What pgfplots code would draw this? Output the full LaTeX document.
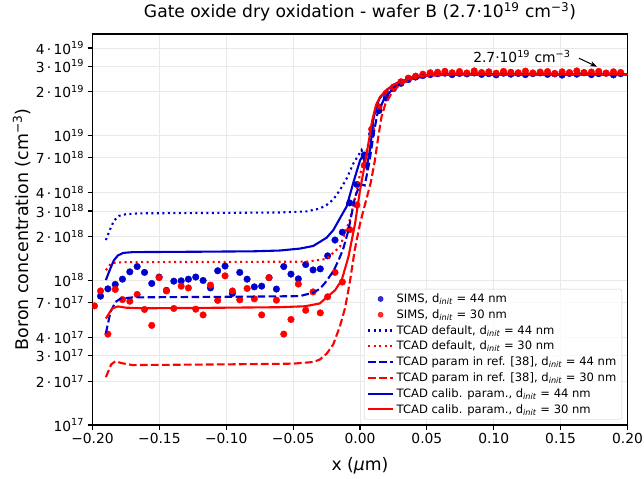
\documentclass[border=0pt]{standalone}
\usepackage{fontspec}
\setmainfont{DejaVu Sans}
\usepackage{pgfplots}
\pgfplotsset{compat=1.18}
\usetikzlibrary{arrows.meta}
\definecolor{cblue}{RGB}{0,0,205}
\definecolor{cred}{RGB}{255,0,0}
\definecolor{gridc}{RGB}{233,233,233}
\definecolor{legframe}{RGB}{204,204,204}
\newcommand{\tp}[1]{10\textsuperscript{#1}}
\newcommand{\di}{d\textsubscript{\textit{init}}}
\begin{document}
\begin{tikzpicture}
\useasboundingbox (-92.5bp,-54bp) rectangle (551.5bp,425bp);
\begin{axis}[
  at={(0,0)}, anchor=south west,
  scale only axis, width=535bp, height=391bp,
  xmin=-0.2, xmax=0.2, ymin=1e17, ymax=5e19, ymode=log,
  xtick={-0.2,-0.15,-0.1,-0.05,0,0.05,0.1,0.15,0.2},
  xticklabels={−0.20,−0.15,−0.10,−0.05,0.00,0.05,0.10,0.15,0.20},
  ytick={1e17,2e17,3e17,4e17,7e17,1e18,2e18,3e18,4e18,7e18,1e19,2e19,3e19,4e19},
  yticklabels={\tp{17},2\,·\,\tp{17},3\,·\,\tp{17},4\,·\,\tp{17},7\,·\,\tp{17},\tp{18},2\,·\,\tp{18},3\,·\,\tp{18},4\,·\,\tp{18},7\,·\,\tp{18},\tp{19},2\,·\,\tp{19},3\,·\,\tp{19},4\,·\,\tp{19}},
  yminorticks=false, xminorticks=false,
  tick align=outside, major tick length=4.9bp,
  xtick pos=lower, ytick pos=left,
  tick style={black, line width=1.1bp},
  axis line style={line width=1.1bp},
  grid=major, major grid style={gridc, line width=0.8bp},
  ticklabel style={font=\fontsize{13.9}{16}\selectfont},
  xlabel={x (\textit{μ}m)},
  ylabel={Boron concentration (cm\textsuperscript{−3})},
  xlabel style={at={(axis description cs:0.5,-0.1049)}, anchor=center, font=\fontsize{17.3}{20}\selectfont},
  ylabel style={at={(axis description cs:-0.1323,0.5)}, anchor=center, font=\fontsize{17.5}{20}\selectfont},
  title={Gate oxide dry oxidation - wafer B (2.7·10\textsuperscript{19} cm\textsuperscript{−3})},
  title style={at={(axis description cs:0.5,1.0409)}, anchor=center, font=\fontsize{17.2}{20}\selectfont},
  clip marker paths=true,
  legend image code/.code={\draw[mark repeat=2,mark phase=2,#1] plot coordinates {(0bp,0bp)(12.5bp,0bp)(25bp,0bp)};},
  legend cell align=left,
  legend style={at={(axis description cs:1,0)}, anchor=south east, xshift=-5.5bp, yshift=5.5bp,
    font=\fontsize{11.6}{13.5}\selectfont, draw=legframe, rounded corners=2bp, fill=white, fill opacity=0.8, text opacity=1,
    nodes={inner ysep=2.75bp, inner xsep=2.5bp}, row sep=0bp},
  every axis plot/.append style={line width=2.1bp},
]
\addlegendimage{only marks, mark=*, mark size=2.6bp, cblue, mark options={line width=0.4bp}}
\addlegendentry{SIMS, \di{} = 44 nm}
\addlegendimage{only marks, mark=*, mark size=2.6bp, cred, mark options={line width=0.4bp}}
\addlegendentry{SIMS, \di{} = 30 nm}

% SIMS blue (44 nm)
\addplot[forget plot, only marks, mark=*, mark size=3.3bp, cblue, mark options={line width=0.4bp}] coordinates {
(-0.1940,7.75e17)(-0.1885,8.70e17)(-0.1830,9.34e17)(-0.1776,1.015e18)(-0.1721,1.14e18)
(-0.1666,1.24e18)(-0.1611,1.13e18)(-0.1557,9.48e17)(-0.1502,1.05e18)(-0.1447,8.5e17)
(-0.1392,9.83e17)(-0.1337,9.88e17)(-0.1283,1.015e18)(-0.1228,1.05e18)(-0.1173,9.94e17)
(-0.1118,8.83e17)(-0.1064,1.16e18)(-0.1009,1.25e18)(-0.0954,8.09e17)(-0.0899,1.13e18)
(-0.0844,1.015e18)(-0.0790,8.98e17)(-0.0735,9.08e17)(-0.0680,1.04e18)(-0.0625,8.67e17)
(-0.0570,1.24e18)(-0.0516,1.10e18)(-0.0461,1.02e18)(-0.0406,1.28e18)(-0.0351,1.175e18)
(-0.0297,1.195e18)(-0.0242,1.47e18)(-0.0187,1.89e18)(-0.0132,2.14e18)(-0.0077,3.41e18)
(-0.0023,4.57e18)(0.0032,7.3e18)(0.0087,1.02e19)(0.0142,1.48e19)(0.0196,1.81e19)
(0.0251,2.10e19)(0.0306,2.28e19)(0.0361,2.42e19)(0.0416,2.52e19)(0.0470,2.58e19)
(0.0525,2.62e19)(0.0580,2.66e19)(0.0635,2.68e19)(0.0689,2.62e19)(0.0744,2.67e19)
(0.0799,2.65e19)(0.0854,2.69e19)(0.0909,2.63e19)(0.0963,2.66e19)(0.1018,2.61e19)
(0.1073,2.68e19)(0.1128,2.64e19)(0.1183,2.67e19)(0.1237,2.62e19)(0.1292,2.66e19)
(0.1347,2.69e19)(0.1402,2.63e19)(0.1456,2.65e19)(0.1511,2.60e19)(0.1566,2.67e19)
(0.1621,2.64e19)(0.1675,2.70e19)(0.1730,2.62e19)(0.1785,2.66e19)(0.1840,2.68e19)
(0.1895,2.61e19)(0.1949,2.66e19)(0.2004,2.65e19)
};
% SIMS red (30 nm)
\addplot[forget plot, only marks, mark=*, mark size=3.3bp, cred, mark options={line width=0.4bp}] coordinates {
(-0.1985,6.64e17)
(-0.1940,8.42e17)(-0.1885,4.24e17)(-0.1830,8.62e17)(-0.1776,7.34e17)(-0.1721,7.15e17)
(-0.1666,7.96e17)(-0.1611,6.27e17)(-0.1557,4.87e17)(-0.1502,1.04e18)(-0.1447,8.42e17)
(-0.1392,6.37e17)(-0.1337,9.08e17)(-0.1283,8.83e17)(-0.1228,6.30e17)(-0.1173,5.75e17)
(-0.1118,9.24e17)(-0.1064,7.24e17)(-0.1009,1.07e18)(-0.0954,8.42e17)(-0.0899,7.31e17)
(-0.0844,8.76e17)(-0.0790,7.43e17)(-0.0735,5.75e17)(-0.0680,1.04e18)(-0.0625,7.27e17)
(-0.0570,4.24e17)(-0.0516,5.35e17)(-0.0461,9.39e17)(-0.0406,6.19e17)(-0.0351,8.29e17)
(-0.0297,5.94e17)(-0.0242,7.67e17)(-0.0187,1.13e18)(-0.0132,9.70e17)(-0.0077,2.23e18)
(-0.0023,3.30e18)(0.0032,6.2e18)(0.0087,1.10e19)(0.0142,1.57e19)(0.0196,1.95e19)
(0.0251,2.15e19)(0.0306,2.34e19)(0.0361,2.48e19)(0.0416,2.56e19)(0.0470,2.64e19)
(0.0525,2.70e19)(0.0580,2.72e19)(0.0635,2.76e19)(0.0689,2.70e19)(0.0744,2.75e19)
(0.0799,2.69e19)(0.0854,2.78e19)(0.0909,2.71e19)(0.0963,2.74e19)(0.1018,2.68e19)
(0.1073,2.76e19)(0.1128,2.72e19)(0.1183,2.70e19)(0.1237,2.77e19)(0.1292,2.69e19)
(0.1347,2.73e19)(0.1402,2.75e19)(0.1456,2.67e19)(0.1511,2.74e19)(0.1566,2.71e19)
(0.1621,2.78e19)(0.1675,2.70e19)(0.1730,2.73e19)(0.1785,2.76e19)(0.1840,2.68e19)
(0.1895,2.74e19)(0.1949,2.71e19)(0.2004,2.72e19)
};

% TCAD default, 44 nm
\addplot[cblue, dash pattern=on 2.1bp off 3.4bp] coordinates {
(-0.1900,1.89e18)(-0.1870,2.22e18)(-0.1840,2.57e18)(-0.1800,2.78e18)(-0.1750,2.85e18)
(-0.1650,2.89e18)(-0.1000,2.91e18)(-0.0600,2.93e18)(-0.0400,2.98e18)(-0.0300,3.12e18)
(-0.0250,3.30e18)(-0.0200,3.60e18)(-0.0150,4.18e18)(-0.0100,5.02e18)(-0.0050,6.38e18)
(0.0012,7.9e18)(0.0035,6.9e18)(0.0060,8.5e18)(0.0080,1.04e19)(0.0100,1.30e19)
(0.0125,1.62e19)(0.0150,1.82e19)(0.0200,2.05e19)(0.0250,2.22e19)(0.0300,2.34e19)
(0.0400,2.52e19)(0.0500,2.60e19)(0.0700,2.63e19)(0.2000,2.63e19)
};
\addlegendentry{TCAD default, \di{} = 44 nm}
% TCAD default, 30 nm
\addplot[cred, dash pattern=on 2.1bp off 3.4bp] coordinates {
(-0.1900,1.17e18)(-0.1865,1.29e18)(-0.1830,1.32e18)(-0.1750,1.33e18)(-0.0400,1.34e18)
(-0.0250,1.40e18)(-0.0150,1.70e18)(-0.0075,2.62e18)(-0.0030,3.92e18)(0.0000,5.4e18)
(0.0030,6.4e18)(0.0060,8.1e18)(0.0080,1.02e19)(0.0100,1.30e19)
(0.0125,1.62e19)(0.0150,1.82e19)(0.0200,2.05e19)(0.0250,2.22e19)(0.0300,2.34e19)
(0.0400,2.52e19)(0.0500,2.60e19)(0.0700,2.63e19)(0.2000,2.63e19)
};
\addlegendentry{TCAD default, \di{} = 30 nm}
% TCAD param ref [38], 44 nm
\addplot[cblue, dash pattern=on 7.7bp off 3.3bp] coordinates {
(-0.1900,4.3e17)(-0.1866,6.0e17)(-0.1828,7.07e17)(-0.1790,7.45e17)(-0.1700,7.60e17)
(-0.1000,7.67e17)(-0.0450,7.75e17)(-0.0350,8.2e17)(-0.0300,8.7e17)(-0.0260,9.6e17)
(-0.0200,1.15e18)(-0.0160,1.37e18)(-0.0125,1.65e18)(-0.0087,2.2e18)(-0.0037,3.75e18)
(0.0000,4.6e18)(0.0035,4.5e18)(0.0070,6.5e18)(0.0100,1.0e19)(0.0130,1.4e19)
(0.0180,1.78e19)(0.0250,2.12e19)(0.0350,2.40e19)(0.0500,2.57e19)(0.0700,2.63e19)
(0.2000,2.63e19)
};
\addlegendentry{TCAD param in ref. [38], \di{} = 44 nm}
% TCAD param ref [38], 30 nm
\addplot[cred, dash pattern=on 7.7bp off 3.3bp] coordinates {
(-0.1900,2.14e17)(-0.1860,2.62e17)(-0.1830,2.75e17)(-0.1780,2.67e17)(-0.1700,2.59e17)
(-0.1000,2.62e17)(-0.0500,2.65e17)(-0.0350,2.72e17)(-0.0300,2.83e17)(-0.0250,3.1e17)
(-0.0200,3.6e17)(-0.0150,4.8e17)(-0.0112,6.4e17)(-0.0075,9.8e17)(-0.0040,1.6e18)
(0.0000,2.45e18)(0.0040,3.4e18)(0.0080,4.7e18)(0.0110,6.6e18)(0.0135,9.5e18)
(0.0160,1.33e19)(0.0190,1.65e19)(0.0240,1.98e19)(0.0300,2.25e19)(0.0400,2.47e19)
(0.0500,2.57e19)(0.0700,2.62e19)(0.2000,2.63e19)
};
\addlegendentry{TCAD param in ref. [38], \di{} = 30 nm}
% TCAD calib, 44 nm
\addplot[cblue] coordinates {
(-0.1900,1.0e18)(-0.1870,1.18e18)(-0.1840,1.37e18)(-0.1810,1.48e18)(-0.1770,1.54e18)
(-0.1700,1.56e18)(-0.1200,1.57e18)(-0.0800,1.58e18)(-0.0600,1.60e18)(-0.0450,1.65e18)
(-0.0350,1.72e18)(-0.0250,1.96e18)(-0.0200,2.21e18)(-0.0150,2.67e18)(-0.0100,3.22e18)
(-0.0050,4.7e18)(0.0000,6.7e18)(0.0020,7.2e18)(0.0050,6.0e18)(0.0075,8.0e18)
(0.0090,1.05e19)(0.0100,1.30e19)(0.0125,1.62e19)(0.0150,1.82e19)(0.0200,2.05e19)
(0.0250,2.22e19)(0.0300,2.34e19)(0.0400,2.52e19)(0.0500,2.60e19)(0.0700,2.63e19)
(0.2000,2.63e19)
};
\addlegendentry{TCAD calib. param., \di{} = 44 nm}
% TCAD calib, 30 nm
\addplot[cred] coordinates {
(-0.1900,5.43e17)(-0.1853,6.37e17)(-0.1810,6.58e17)(-0.1750,6.45e17)(-0.1600,6.39e17)
(-0.1000,6.45e17)(-0.0600,6.50e17)(-0.0410,6.60e17)(-0.0300,6.90e17)(-0.0261,7.45e17)
(-0.0187,8.5e17)(-0.0137,1.0e18)(-0.0087,1.44e18)(-0.0037,2.45e18)(0.0000,4.17e18)
(0.0040,6.6e18)(0.0070,9.6e18)(0.0090,1.25e19)(0.0120,1.62e19)(0.0150,1.84e19)
(0.0200,2.06e19)(0.0250,2.22e19)(0.0300,2.34e19)(0.0400,2.52e19)(0.0500,2.60e19)
(0.0700,2.63e19)(0.2000,2.63e19)
};
\addlegendentry{TCAD calib. param., \di{} = 30 nm}

\node[font=\fontsize{13.9}{16}\selectfont] at (axis cs:0.121,3.48e19) {2.7·10\textsuperscript{19} cm\textsuperscript{−3}};
\draw[-{Stealth[length=7bp,width=5bp]}, line width=1bp, black] (axis cs:0.1637,3.4e19) -- (axis cs:0.1772,2.97e19);
\end{axis}
\end{tikzpicture}
\end{document}
